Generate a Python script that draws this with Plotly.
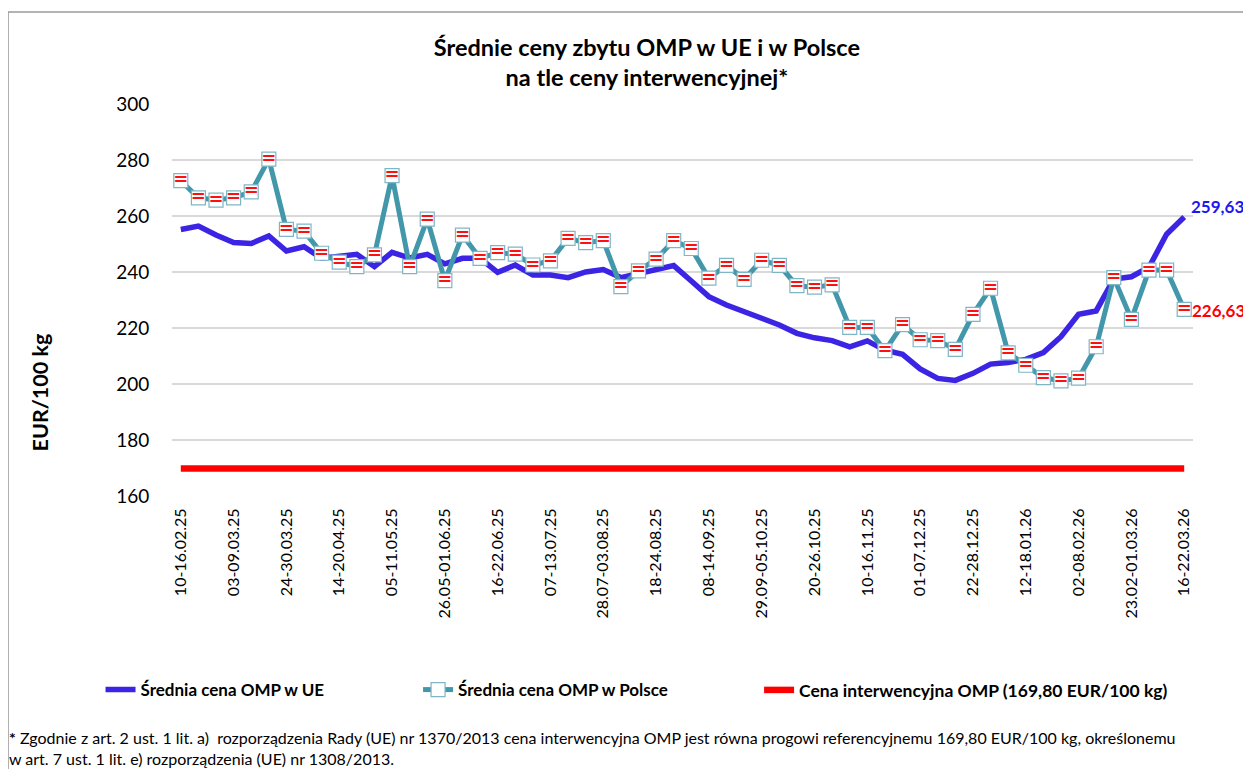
import plotly.graph_objects as go

weeks = [
    "10-16.02.25", "17-23.02.25", "24.02-02.03.25", "03-09.03.25", "10-16.03.25", "17-23.03.25",
    "24-30.03.25", "31.03-06.04.25", "07-13.04.25", "14-20.04.25", "21-27.04.25", "28.04-04.05.25",
    "05-11.05.25", "12-18.05.25", "19-25.05.25", "26.05-01.06.25", "02-08.06.25", "09-15.06.25",
    "16-22.06.25", "23-29.06.25", "30.06-06.07.25", "07-13.07.25", "14-20.07.25", "21-27.07.25",
    "28.07-03.08.25", "04-10.08.25", "11-17.08.25", "18-24.08.25", "25-31.08.25", "01-07.09.25",
    "08-14.09.25", "15-21.09.25", "22-28.09.25", "29.09-05.10.25", "06-12.10.25", "13-19.10.25",
    "20-26.10.25", "27.10-02.11.25", "03-09.11.25", "10-16.11.25", "17-23.11.25", "24-30.11.25",
    "01-07.12.25", "08-14.12.25", "15-21.12.25", "22-28.12.25", "29.12-04.01.26", "05-11.01.26",
    "12-18.01.26", "19-25.01.26", "26.01-01.02.26", "02-08.02.26", "09-15.02.26", "16-22.02.26",
    "23.02-01.03.26", "02-08.03.26", "09-15.03.26", "16-22.03.26",
]

shown_ticks = [
    "10-16.02.25", "03-09.03.25", "24-30.03.25", "14-20.04.25", "05-11.05.25", "26.05-01.06.25",
    "16-22.06.25", "07-13.07.25", "28.07-03.08.25", "18-24.08.25", "08-14.09.25", "29.09-05.10.25",
    "20-26.10.25", "10-16.11.25", "01-07.12.25", "22-28.12.25", "12-18.01.26", "02-08.02.26",
    "23.02-01.03.26", "16-22.03.26",
]

eu_price = [
    255.2, 256.4, 253.2, 250.5, 250.2, 252.9, 247.5, 249.0, 244.9, 245.8,
    246.3, 241.9, 247.0, 245.0, 246.3, 242.9, 244.9, 244.9, 239.9, 242.5,
    238.9, 238.9, 238.0, 240.0, 240.9, 238.0, 239.5, 241.3, 242.3, 236.8,
    231.2, 228.2, 225.8, 223.5, 221.1, 218.1, 216.5, 215.5, 213.3, 215.4,
    212.1, 210.6, 205.4, 202.0, 201.3, 203.8, 207.1, 207.7, 208.8, 211.2,
    216.9, 224.9, 226.1, 237.5, 238.3, 241.7, 253.5, 259.63,
]

pl_price = [
    272.6, 266.5, 265.7, 266.5, 268.6, 280.3, 255.2, 254.6, 246.7, 243.5,
    241.9, 246.1, 274.4, 241.9, 258.9, 236.9, 253.2, 244.9, 246.9, 246.4,
    242.5, 244.0, 252.0, 250.5, 251.2, 234.8, 240.4, 244.6, 251.2, 248.4,
    237.8, 242.4, 237.4, 244.2, 242.4, 235.1, 234.6, 235.4, 220.2, 220.2,
    211.9, 221.2, 215.8, 215.5, 212.4, 224.9, 234.2, 211.1, 206.7, 202.3,
    201.1, 202.1, 213.3, 238.0, 223.1, 240.7, 240.7, 226.63,
]

intervention_price = [169.80] * len(weeks)

series_names = [
    "Średnia cena OMP w UE",
    "Średnia cena OMP w Polsce",
    "Cena interwencyjna OMP (169,80 EUR/100 kg)",
]

FONT = "Lato"
EU_COL = "#3B24E3"
PL_COL = "#4397AB"
INT_COL = "#FF0000"

fig = go.Figure()

fig.add_trace(go.Scatter(
    x=weeks, y=intervention_price, mode="lines", name=series_names[2],
    line=dict(color=INT_COL, width=6.5), legend="legend3",
))
fig.add_trace(go.Scatter(
    x=weeks, y=eu_price, mode="lines", name=series_names[0],
    line=dict(color=EU_COL, width=5.5), legend="legend",
))
fig.add_trace(go.Scatter(
    x=weeks, y=pl_price, mode="lines+markers", name=series_names[1],
    line=dict(color=PL_COL, width=5),
    marker=dict(symbol="square", size=14, color="white",
                line=dict(color="#7FB6C6", width=1.2)),
    legend="legend2",
))
fig.add_trace(go.Scatter(
    x=weeks, y=pl_price, mode="text", text=["="] * len(pl_price),
    textposition="middle center",
    textfont=dict(family="DejaVu Sans", size=18, color="#FF1010", weight="bold"),
    showlegend=False, hoverinfo="skip",
))

fig.add_annotation(x=weeks[-1], y=eu_price[-1], text="<b>259,63</b>", showarrow=False,
                   xanchor="left", yanchor="middle", xshift=5, yshift=11,
                   font=dict(family=FONT, size=17, color="#1A1AF0"))
fig.add_annotation(x=weeks[-1], y=pl_price[-1], text="<b>226,63</b>", showarrow=False,
                   xanchor="left", yanchor="middle", xshift=6, yshift=-1,
                   font=dict(family=FONT, size=17, color="#FF0000"))

fig.add_annotation(xref="paper", yref="paper", x=-0.129, y=0.265,
                   text="<b>EUR/100 kg</b>", textangle=-90, showarrow=False,
                   xanchor="center", yanchor="middle",
                   font=dict(family=FONT, size=21.5, color="black"))

fig.add_annotation(xref="paper", yref="paper", x=-0.162, y=-0.588,
                   text="<b>*</b> Zgodnie z art. 2 ust. 1 lit. a)  rozporządzenia Rady (UE) nr 1370/2013 cena interwencyjna OMP jest równa progowi referencyjnemu 169,80 EUR/100 kg, określonemu<br>w art. 7 ust. 1 lit. e) rozporządzenia (UE) nr 1308/2013.",
                   showarrow=False, xanchor="left", yanchor="top", align="left",
                   font=dict(family=FONT, size=16, color="black"))

fig.add_shape(type="rect", xref="paper", yref="paper",
              x0=-0.1606, x1=1.10, y0=-0.75, y1=1.235,
              line=dict(color="#9A9A9A", width=1.5), fillcolor="rgba(0,0,0,0)", layer="below")

legend_common = dict(orientation="h", yanchor="middle", y=-0.495, xanchor="left",
                     bgcolor="rgba(0,0,0,0)", itemwidth=30)

fig.update_layout(
    width=1243, height=761,
    margin=dict(l=164, r=58, t=96, b=273),
    paper_bgcolor="white", plot_bgcolor="white",
    title=dict(text="<b>Średnie ceny zbytu OMP w UE i w Polsce<br>na tle ceny interwencyjnej*</b>",
               x=0.514, xanchor="center", y=0.937, yanchor="top",
               font=dict(family=FONT, size=23.5, color="black")),
    legend=dict(x=-0.070, font=dict(family=FONT, size=17, color="black", weight="bold"), **legend_common),
    legend2=dict(x=0.241, font=dict(family=FONT, size=17, color="black", weight="bold"), **legend_common),
    legend3=dict(x=0.575, font=dict(family=FONT, size=17.5, color="black", weight="bold"), **legend_common),
    showlegend=True,
    xaxis=dict(type="category", categoryorder="array", categoryarray=weeks,
               range=[-0.5, len(weeks) - 0.5],
               tickmode="array", tickvals=shown_ticks, ticktext=shown_ticks,
               tickangle=-90, showgrid=False, zeroline=False, showline=False,
               ticks="outside", ticklen=5, tickcolor="rgba(0,0,0,0)",
               tickfont=dict(family=FONT, size=16, color="black")),
    yaxis=dict(range=[160, 300], dtick=20, tick0=160,
               showgrid=True, gridcolor="#D9D9D9", gridwidth=1.5,
               zeroline=False, showline=False,
               ticks="outside", ticklen=18, tickcolor="rgba(0,0,0,0)",
               tickfont=dict(family=FONT, size=19, color="black")),
)

fig.write_html("out.html")
